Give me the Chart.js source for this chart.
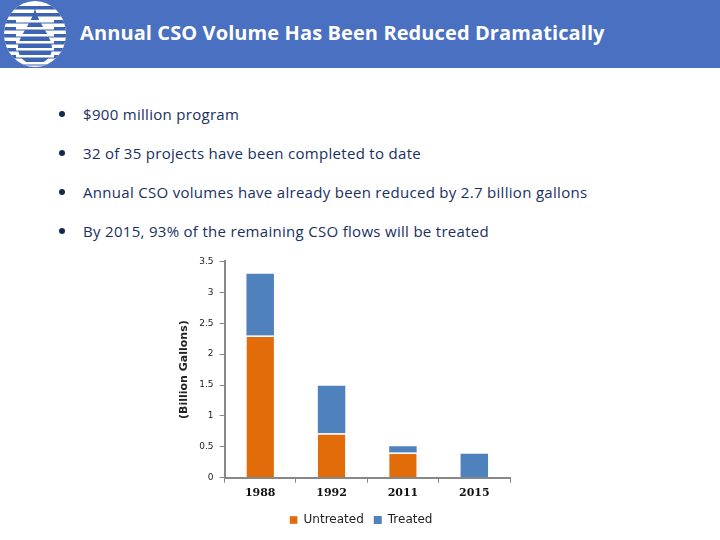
<!DOCTYPE html>
<html>
<head>
<meta charset="utf-8">
<script src="https://cdn.jsdelivr.net/npm/chart.js@4"></script>
<style>
  body { margin: 0; width: 720px; height: 540px; background: #fff; position: relative; overflow: hidden; font-family: "Open Sans", sans-serif; }
  #header { position: absolute; left: 0; top: 0; width: 720px; height: 68px; background: #4a70c1; }
  #title { position: absolute; left: 80px; top: 19px; color: #fff; font: bold 20px "Open Sans", sans-serif; letter-spacing: 0.1px; }
  #logo { position: absolute; left: 2px; top: 0px; }
  ul { position: absolute; left: 59px; top: 101px; margin: 0; padding: 0; list-style: none; }
  li { color: #18305f; font-size: 15px; letter-spacing: 0.3px; height: 39px; line-height: 26px; position: relative; padding-left: 24px; }
  li:before { content: ""; position: absolute; left: 0; top: 10px; width: 6px; height: 6px; border-radius: 50%; background: #142850; }
  #wrap { position: absolute; left: 160px; top: 250px; width: 360px; height: 290px; }
</style>
</head>
<body>
<div id="header"></div>
<canvas id="logo" width="66" height="68"></canvas>
<div id="title">Annual CSO Volume Has Been Reduced Dramatically</div>
<ul>
  <li>$900 million program</li>
  <li>32 of 35 projects have been completed to date</li>
  <li>Annual CSO volumes have already been reduced by 2.7 billion gallons</li>
  <li>By 2015, 93% of the remaining CSO flows will be treated</li>
</ul>
<div id="wrap"><canvas id="chart"></canvas></div>
<script>
// values, billion gallons
var years = ['1988', '1992', '2011', '2015'];
var untreated = [2.3, 0.72, 0.41, 0];
var treated = [1.0, 0.77, 0.1, 0.39];
var yTicks = ['0', '0.5', '1', '1.5', '2', '2.5', '3', '3.5'];

// little round logo in the header
var lg = document.getElementById('logo').getContext('2d');
lg.save();
lg.beginPath();
lg.ellipse(33, 34, 31, 33, 0, 0, Math.PI * 2);
lg.clip();
lg.fillStyle = '#fff';
lg.fillRect(0, 0, 66, 68);
lg.fillStyle = '#3d63b3';
for (let y = 6; y < 68; y += 7) {
    lg.fillRect(0, y, 66, 3.5);
}
lg.beginPath();
lg.moveTo(33, 8);
lg.bezierCurveTo(36, 24, 50, 36, 50, 48);
lg.bezierCurveTo(50, 58, 42, 64, 33, 64);
lg.bezierCurveTo(24, 64, 16, 58, 16, 48);
lg.bezierCurveTo(16, 36, 30, 24, 33, 8);
lg.fillStyle = '#3d63b3';
lg.fill();
for (let y = 20; y < 64; y += 7) {
    lg.fillStyle = '#fff';
    lg.fillRect(14, y, 38, 2.5);
}
lg.restore();

// the legend sits centred under the plot area, not the whole canvas
var legendShift = {
    id: 'legendShift',
    afterLayout: function(chart) {
        chart.legend.left += 18;
        chart.legend.right += 18;
    }
};

var ctx = document.getElementById('chart').getContext('2d');
var mychart = new Chart(ctx, {
    type: 'bar',
    data: {
        labels: years,
        datasets: [{
            label: 'Untreated',
            data: untreated,
            backgroundColor: '#e36c0a',
            borderColor: '#fff',
            borderWidth: {top: 1.5, left: 0, right: 0, bottom: 0},
            borderSkipped: false,
            barPercentage: 0.5,
            categoryPercentage: 0.77
        },
        {
            label: 'Treated',
            data: treated,
            backgroundColor: '#4f81bd',
            borderWidth: 0,
            barPercentage: 0.5,
            categoryPercentage: 0.77
        }]
    },
    plugins: [legendShift],
    options: {
        responsive: true,
        maintainAspectRatio: false,
        animation: false,
        layout: { padding: { left: 16, right: 10, top: 6, bottom: 4 } },
        plugins: {
            tooltip: { enabled: false },
            legend: {
                position: 'bottom',
                labels: {
                    boxWidth: 8, boxHeight: 8, padding: 10,
                    color: '#222',
                    font: { family: 'DejaVu Sans', size: 12 }
                }
            }
        },
        scales: {
            x: {
                stacked: true,
                grid: { display: true, drawOnChartArea: false, offset: true, color: '#888', tickLength: 5 },
                border: { color: '#888', width: 2 },
                ticks: { color: '#111', font: { family: 'DejaVu Serif', size: 11, weight: 'bold' }, padding: 4 }
            },
            y: {
                stacked: true,
                min: 0, max: 3.5,
                grid: { display: true, drawOnChartArea: false, color: '#888', tickLength: 5 },
                border: { color: '#888', width: 2 },
                ticks: {
                    stepSize: 0.5,
                    color: '#222',
                    padding: 6,
                    font: { family: 'DejaVu Sans', size: 9 },
                    callback: function(v, i) { return yTicks[i]; }
                },
                title: {
                    display: true,
                    text: '(Billion Gallons)',
                    color: '#222',
                    padding: 2,
                    font: { family: 'DejaVu Sans', size: 11, weight: 'bold' }
                }
            }
        }
    }
});
</script>
</body>
</html>
